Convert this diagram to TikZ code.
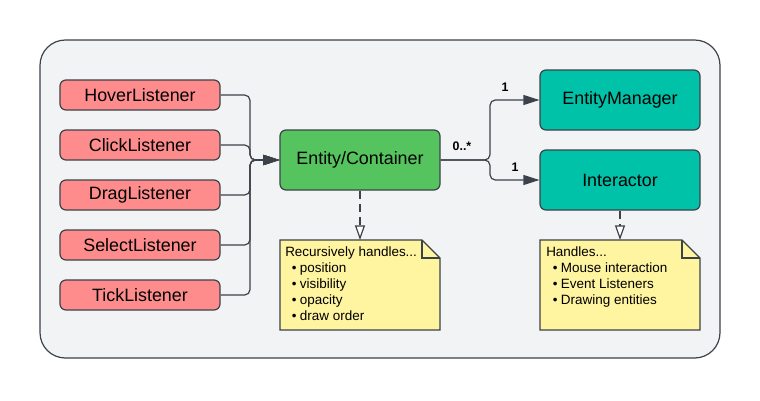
\documentclass[tikz,border=0pt]{standalone}
\usepackage{fontspec}
\setmainfont{Liberation Sans}
\usetikzlibrary{arrows.meta}

\definecolor{lineGray}{HTML}{3C424A}
\definecolor{panelBg}{HTML}{F2F3F5}
\definecolor{listenerRed}{HTML}{FF8C8C}
\definecolor{entityGreen}{HTML}{55C35E}
\definecolor{managerTeal}{HTML}{00C2A8}
\definecolor{noteYellow}{HTML}{FFF49F}

\begin{document}
\begin{tikzpicture}[x=0.75pt, y=-0.75pt,
    box/.style={draw=lineGray, line width=0.9pt, rounded corners=4.5pt, minimum width=120pt,
        font=\fontsize{13.4}{15}\selectfont},
    listener/.style={box, fill=listenerRed, minimum height=22.5pt},
    bigbox/.style={box, minimum height=45pt},
    link/.style={draw=lineGray, line width=0.9pt, rounded corners=4pt,
        -{Triangle[length=12pt, width=7.5pt]}},
    dep/.style={draw=lineGray, line width=0.9pt, dash pattern=on 6pt off 4pt,
        -{Triangle[open, fill=white, length=11pt, width=7.5pt]}},
    note/.style={draw=lineGray, line width=0.9pt, fill=noteYellow},
    notetext/.style={anchor=north west, inner sep=0pt, align=left,
        font=\fontsize{10.1}{12}\selectfont},
    mult/.style={font=\bfseries\fontsize{9.3}{10}\selectfont}]
    \useasboundingbox (0,0) rectangle (760,400);
    % Panel
    \draw[draw=lineGray, line width=0.9pt, fill=panelBg, rounded corners=19pt] (40,40) rectangle (720,358);

    % Listeners
    \node[listener] (hover) at (140,95) {HoverListener};
    \node[listener] (click) at (140,145) {ClickListener};
    \node[listener] (drag) at (140,195) {DragListener};
    \node[listener] (select) at (140,245) {SelectListener};
    \node[listener] (tick) at (140,295) {TickListener};

    \node[bigbox, fill=entityGreen] (entity) at (360,160) {Entity/Container};
    \node[bigbox, fill=managerTeal] (manager) at (620,100) {EntityManager};
    \node[bigbox, fill=managerTeal] (interactor) at (620,180) {Interactor};

    \coordinate (bus) at (250,160);
    \coordinate (split) at (490,160);
    \foreach \l in {hover,click,drag,select,tick}
        \draw[link] (\l.east) -| (bus) -- (entity.west);
    \draw[link] (entity.east) -- (split) |- (manager.west);
    \draw[link] (entity.east) -- (split) |- (interactor.west);
    \node[mult] (many) at (462,146) {0..*};
    \node[mult] (oneA) at (505,87) {1};
    \node[mult] (oneB) at (515,167) {1};

    % Notes
    \draw[note] (280,240) -- (422,240) -- (440,258) -- (440,330) -- (280,330) -- cycle;
    \draw[draw=lineGray, line width=0.9pt] (422,240) -- (422,258) -- (440,258);
    \coordinate (entnote) at (360,240);
    \node[notetext] (entnotetxt) at (285,246) {Recursively handles...\\
        \hspace{5pt}\textbullet\hspace{2.5pt}position\\
        \hspace{5pt}\textbullet\hspace{2.5pt}visibility\\
        \hspace{5pt}\textbullet\hspace{2.5pt}opacity\\
        \hspace{5pt}\textbullet\hspace{2.5pt}draw order};

    \draw[note] (540,240) -- (682,240) -- (700,258) -- (700,330) -- (540,330) -- cycle;
    \draw[draw=lineGray, line width=0.9pt] (682,240) -- (682,258) -- (700,258);
    \coordinate (intnote) at (620,240);
    \node[notetext] (intnotetxt) at (546,246) {Handles...\\
        \hspace{5pt}\textbullet\hspace{2.5pt}Mouse interaction\\
        \hspace{5pt}\textbullet\hspace{2.5pt}Event Listeners\\
        \hspace{5pt}\textbullet\hspace{2.5pt}Drawing entities};

    \draw[dep] (entity.south) -- (entnote);
    \draw[dep] (interactor.south) -- (intnote);
\end{tikzpicture}
\end{document}
